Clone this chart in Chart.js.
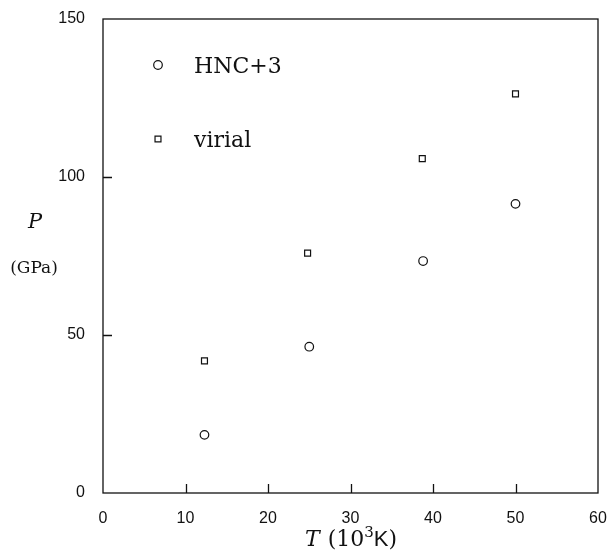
<!DOCTYPE html>
<html>
<head>
<meta charset="utf-8">
<title>P vs T</title>
<script src="https://cdn.jsdelivr.net/npm/chart.js@4/dist/chart.umd.min.js"></script>
<style>
  html, body { margin: 0; padding: 0; background: #fff; }
  canvas { display: block; }
</style>
</head>
<body>
<canvas id="ptChart" width="611" height="554"></canvas>
<script>
// Pressure (GPa) against temperature (10^3 K)
const hncTemps = [12.3, 25.0, 38.8, 50.0];
const hncPressure = [18.4, 46.3, 73.4, 91.5];
const virialTemps = [12.3, 24.8, 38.7, 50.0];
const virialPressure = [41.8, 75.9, 105.8, 126.3];

const xTicks = [0, 10, 20, 30, 40, 50, 60];
const yTicks = [0, 50, 100, 150];

const legendItems = [
    { label: 'HNC+3', pointStyle: 'circle', radius: 4.3 },
    { label: 'virial', pointStyle: 'rect', radius: 4.2 }
];

const serif = '"DejaVu Serif", "Liberation Serif", serif';
const sans = '"Liberation Sans", Arial, sans-serif';

function toPoints(xs, ys) {
    return xs.map((x, i) => ({ x: x, y: ys[i] }));
}

// drop the extra room chart.js reserves for edge labels
function noEdgePadding(scale) {
    scale.paddingTop = 0;
    scale.paddingBottom = 0;
    scale.paddingLeft = 0;
    scale.paddingRight = 0;
}

// frame, inward ticks, legend and axis titles
const decorations = {
    id: 'decorations',
    afterDraw(chart) {
        const ctx = chart.ctx;
        const area = chart.chartArea;
        const xs = chart.scales.x;
        const ys = chart.scales.y;
        ctx.save();
        ctx.strokeStyle = '#111';
        ctx.lineWidth = 1.3;
        ctx.strokeRect(area.left, area.top, area.right - area.left, area.bottom - area.top);

        const tickLen = 9;
        ctx.beginPath();
        xTicks.slice(1, -1).forEach(v => {
            const px = Math.round(xs.getPixelForValue(v)) + 0.5;
            ctx.moveTo(px, area.bottom);
            ctx.lineTo(px, area.bottom - tickLen);
        });
        yTicks.slice(1, -1).forEach(v => {
            const py = Math.round(ys.getPixelForValue(v)) + 0.5;
            ctx.moveTo(area.left, py);
            ctx.lineTo(area.left + tickLen, py);
        });
        ctx.stroke();

        // legend
        ctx.textBaseline = 'middle';
        ctx.font = '22px ' + serif;
        const rows = [65, 139];
        legendItems.forEach((item, i) => {
            ctx.fillStyle = '#fff';
            ctx.strokeStyle = '#111';
            ctx.lineWidth = 1.2;
            Chart.helpers.drawPoint(ctx, {
                pointStyle: item.pointStyle,
                radius: item.radius,
                rotation: 0,
                borderWidth: 1.2
            }, 158, rows[i]);
            ctx.fillStyle = '#111';
            ctx.fillText(item.label, 194, rows[i] + 2);
        });

        // y title
        ctx.fillStyle = '#111';
        ctx.textAlign = 'center';
        ctx.font = 'italic 21px ' + serif;
        ctx.fillText('P', 35, 223);
        ctx.font = '17px ' + serif;
        ctx.fillText('(GPa)', 34, 269);

        // x title: T (10^3 K)
        ctx.textAlign = 'left';
        ctx.textBaseline = 'alphabetic';
        const base = 546;
        let x = 305;
        const parts = [
            { t: 'T', f: 'italic 22px ' + serif, dy: 0, gap: 8 },
            { t: '(10', f: '22px ' + serif, dy: 0, gap: 0 },
            { t: '3', f: '15px ' + serif, dy: -9, gap: 0 },
            { t: 'K', f: '22px ' + sans, dy: 0, gap: 0 },
            { t: ')', f: '22px ' + serif, dy: 0, gap: 0 }
        ];
        parts.forEach(p => {
            ctx.font = p.f;
            ctx.fillText(p.t, x, base + p.dy);
            x += ctx.measureText(p.t).width + p.gap;
        });
        ctx.restore();
    }
};

function createChart() {
    const ctx = document.getElementById('ptChart').getContext('2d');
    new Chart(ctx, {
        type: 'scatter',
        data: {
            datasets: [
                {
                    label: 'HNC+3',
                    data: toPoints(hncTemps, hncPressure),
                    pointStyle: 'circle',
                    pointRadius: 4.3,
                    pointBorderWidth: 1.2,
                    pointBorderColor: '#111',
                    pointBackgroundColor: '#fff'
                },
                {
                    label: 'virial',
                    data: toPoints(virialTemps, virialPressure),
                    pointStyle: 'rect',
                    pointRadius: 4.2,
                    pointBorderWidth: 1.2,
                    pointBorderColor: '#111',
                    pointBackgroundColor: '#fff'
                }
            ]
        },
        options: {
            responsive: false,
            animation: false,
            layout: { padding: { left: 0, right: 13, top: 19, bottom: 0 } },
            plugins: {
                legend: { display: false },
                tooltip: { enabled: false }
            },
            scales: {
                x: {
                    type: 'linear',
                    min: 0,
                    max: 60,
                    afterBuildTicks: scale => { scale.ticks = xTicks.map(v => ({ value: v })); },
                    afterFit: scale => { scale.height = 61; noEdgePadding(scale); },
                    border: { display: false },
                    grid: { display: false, drawTicks: false },
                    ticks: { color: '#111', padding: 16, font: { family: sans, size: 16 } }
                },
                y: {
                    type: 'linear',
                    min: 0,
                    max: 150,
                    afterBuildTicks: scale => { scale.ticks = yTicks.map(v => ({ value: v })); },
                    afterFit: scale => { scale.width = 103; noEdgePadding(scale); },
                    border: { display: false },
                    grid: { display: false, drawTicks: false },
                    ticks: { color: '#111', padding: 18, font: { family: sans, size: 16 } }
                }
            }
        },
        plugins: [decorations]
    });
}

document.addEventListener('DOMContentLoaded', createChart);
</script>
</body>
</html>
